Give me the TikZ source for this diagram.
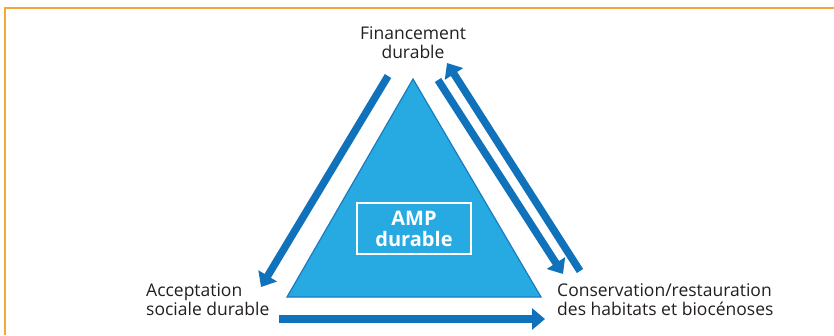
\documentclass[tikz,border=0pt]{standalone}
\usepackage{fontspec}
\setmainfont{Open Sans}
\usetikzlibrary{arrows.meta}
\definecolor{orangeline}{HTML}{F7A63A}
\definecolor{arrowblue}{HTML}{1172BC}
\definecolor{trifill}{HTML}{27A9E1}
\definecolor{triedge}{HTML}{1A7CC1}
\definecolor{txt}{HTML}{231F20}
\begin{document}
\begin{tikzpicture}[x=1pt,y=-1pt,
  flow/.style={draw=arrowblue, line width=7.5pt, -{Triangle[width=21pt,length=13pt]}},
  lbl/.style={font=\fontsize{17.5}{19}\selectfont, text=txt, inner sep=0pt}]
\useasboundingbox (0,0) rectangle (834,335);
\draw[orangeline, line width=2pt] (4.5,335) -- (4.5,7.5) -- (834,7.5);
% triangle
\coordinate (apex) at (413,79);
\coordinate (bl) at (287,297);
\coordinate (br) at (541,297);
\filldraw[fill=trifill, draw=triedge, line width=1.2pt] (apex) -- (bl) -- (br) -- cycle;
\node[draw=white, line width=1.5pt, minimum width=114pt, minimum height=51pt, inner sep=0pt,
  font=\fontsize{20}{21}\selectfont\bfseries, text=white, align=center] (amp) at (414,228.5) {AMP\\durable};
% labels
\node[lbl, align=center] (fin) at (413,43) {Financement\\durable};
\node[lbl, align=left, anchor=west] (acc) at (146,300) {Acceptation\\sociale durable};
\node[lbl, align=left, anchor=west] (cons) at (557,300) {Conservation/restauration\\des habitats et biocénoses};
% arrows
\coordinate (a1) at (388,76);
\coordinate (a2) at (261,287);
\coordinate (b1) at (438,80);
\coordinate (b2) at (563,274);
\coordinate (c1) at (580,271);
\coordinate (c2) at (447,63);
\coordinate (d1) at (279,319);
\coordinate (d2) at (545,319);
\draw[flow] (a1) -- (a2);
\draw[flow] (b1) -- (b2);
\draw[flow] (c1) -- (c2);
\draw[flow] (d1) -- (d2);
\end{tikzpicture}
\end{document}
